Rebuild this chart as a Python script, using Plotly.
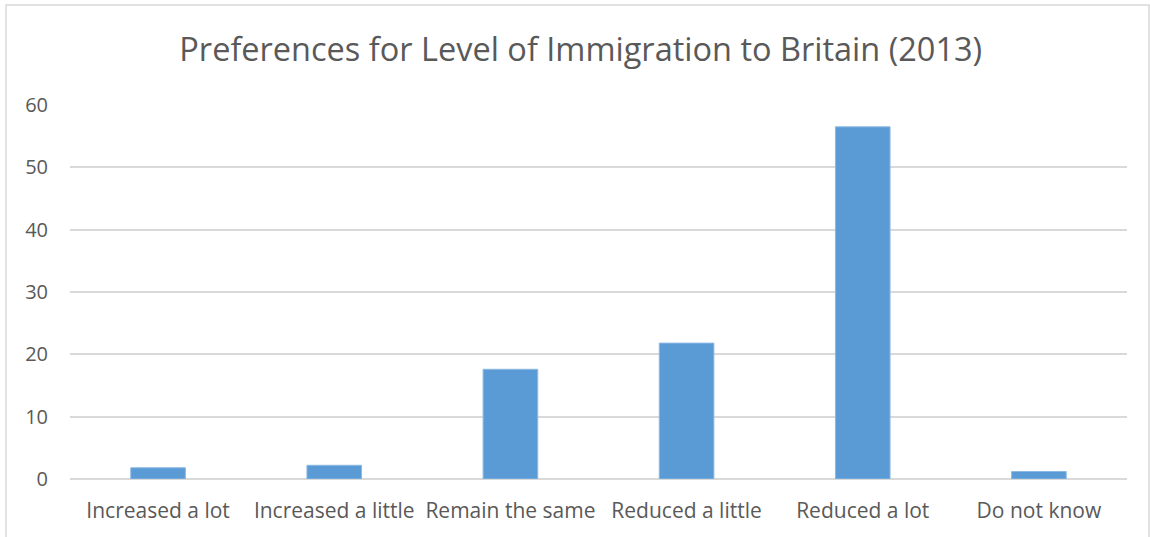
import plotly.graph_objects as go

categories = ["Increased a lot", "Increased a little", "Remain the same",
              "Reduced a little", "Reduced a lot", "Do not know"]
percentages = [1.8, 2.2, 17.6, 21.8, 56.5, 1.2]
y_ticks = [0, 10, 20, 30, 40, 50, 60]

W, H = 1150, 537
left, right, top, bottom = 70, 23, 105, 58
plot_w = W - left - right
plot_h = H - top - bottom

fig = go.Figure(
    go.Bar(
        x=categories,
        y=percentages,
        marker=dict(color="#5b9bd5", line=dict(color="#8cb8e3", width=1)),
        width=0.31,
    )
)

# light frame around the whole chart
fig.add_shape(
    type="rect", xref="paper", yref="paper",
    x0=(6 - left) / plot_w, x1=(1149 - left) / plot_w,
    y0=(H - bottom - 540) / plot_h, y1=(H - bottom - 5) / plot_h,
    line=dict(color="#d9d9d9", width=1.5), fillcolor="rgba(0,0,0,0)", layer="below",
)

fig.update_layout(
    width=W, height=H,
    margin=dict(l=left, r=right, t=top, b=bottom),
    paper_bgcolor="white", plot_bgcolor="white",
    font=dict(family="Open Sans", color="#595959"),
    title=dict(
        text="Preferences for Level of Immigration to Britain (2013)",
        x=0.505, xanchor="center", y=(H - 50) / H, yanchor="middle",
        font=dict(size=32.5, color="#595959", family="Open Sans"),
    ),
    showlegend=False,
    bargap=0.69,
)
fig.update_xaxes(
    showgrid=False, showline=False, ticks="",
    tickfont=dict(size=21, color="#595959"),
    ticklabelstandoff=17,
)
fig.update_yaxes(
    range=[0, 60], tickvals=y_ticks,
    showgrid=True, gridcolor="#d9d9d9", gridwidth=1.5,
    zeroline=True, zerolinecolor="#d9d9d9", zerolinewidth=1.5,
    showline=False, ticks="",
    tickfont=dict(size=20, color="#595959"),
    ticklabelstandoff=21,
)

fig.write_html("out.html")
